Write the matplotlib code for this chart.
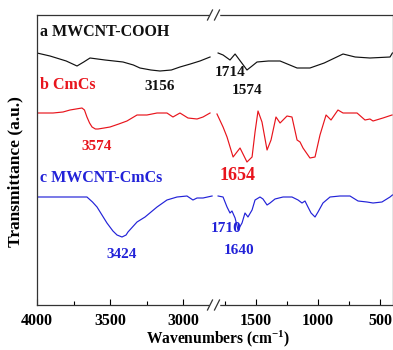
import matplotlib
matplotlib.use("Agg")
import matplotlib.pyplot as plt
from matplotlib.lines import Line2D

plt.rcParams['font.family'] = ['Liberation Serif', 'DejaVu Serif']
plt.rcParams['font.weight'] = 'bold'
plt.rcParams['mathtext.fontset'] = 'custom'
plt.rcParams['mathtext.rm'] = 'Liberation Serif:bold'
plt.rcParams['mathtext.bf'] = 'Liberation Serif:bold'
plt.rcParams['mathtext.default'] = 'bf'

# ---- data (wavenumber, transmittance a.u.) ----
a_left_wn = [4000, 3911, 3800, 3726, 3680, 3637, 3534, 3411, 3340, 3295, 3220, 3158,
             3080, 3021, 2950, 2884, 2815]
a_left_t = [267, 264, 259, 254, 258, 262, 260, 258, 255, 252, 250, 249,
            250, 253, 256, 259, 263]
a_right_wn = [1806, 1766, 1710, 1669, 1573, 1532, 1492, 1400, 1306, 1169, 1065, 950,
              798, 700, 581, 419, 400]
a_right_t = [267, 265, 260, 266, 250, 254, 258, 259, 259, 252, 252, 257,
             266, 263, 262, 263, 267]

b_left_wn = [4000, 3890, 3822, 3774, 3692, 3675, 3658, 3640, 3623, 3600, 3582, 3540,
             3500, 3440, 3384, 3315, 3247, 3178, 3110, 3069, 3021, 2966, 2904, 2863, 2815]
b_left_t = [207, 207, 208, 210, 212, 210, 203, 197, 193, 191, 191, 192,
            193, 196, 199, 205, 205, 207, 207, 203, 207, 202, 201, 203, 207]
b_right_wn = [1815, 1766, 1734, 1685, 1629, 1573, 1532, 1508, 1484, 1452, 1411, 1379,
              1339, 1306, 1250, 1210, 1169, 1145, 1121, 1065, 1024, 984, 935, 895,
              839, 798, 685, 621, 581, 556, 476, 403]
b_right_t = [206, 193, 183, 163, 172, 158, 163, 188, 209, 198, 170, 180,
             203, 197, 204, 203, 180, 178, 172, 162, 163, 185, 205, 200,
             210, 207, 207, 200, 201, 199, 202, 205]

c_left_wn = [4000, 3700, 3658, 3620, 3589, 3521, 3480, 3452, 3418, 3390, 3377, 3315,
             3260, 3178, 3110, 3041, 2973, 2932, 2904, 2863, 2801]
c_left_t = [123, 123, 123, 118, 113, 97, 89, 85, 83, 85, 88, 98,
            103, 113, 120, 123, 124, 120, 122, 122, 124]
c_right_wn = [1806, 1766, 1734, 1710, 1694, 1669, 1645, 1613, 1589, 1565, 1532, 1508,
              1468, 1444, 1411, 1387, 1347, 1282, 1210, 1161, 1129, 1105, 1081, 1056,
              1024, 1000, 960, 903, 823, 742, 677, 605, 556, 484, 419, 400]
c_right_t = [124, 123, 113, 107, 109, 102, 90, 97, 107, 103, 110, 120,
             123, 121, 115, 117, 121, 123, 123, 120, 117, 119, 113, 107,
             103, 108, 117, 123, 124, 124, 119, 118, 117, 118, 123, 125]

left_ticks = [4000, 3500, 3000]
left_minor = [3750, 3250]
right_ticks = [1500, 1000, 500]
right_minor = [1750, 1250, 750]

black = '#111111'
red = '#e8141c'
blue = '#2222d8'

W, H = 393, 350
fig = plt.figure(figsize=(W / 100, H / 100), dpi=100)

x0, xb, x1 = 37, 215, 392.5
ytop, ybot = 15, 305
axL = fig.add_axes([x0 / W, 1 - ybot / H, (xb - x0) / W, (ybot - ytop) / H])
axR = fig.add_axes([xb / W, 1 - ybot / H, (x1 - xb) / W, (ybot - ytop) / H])

lw = 0.85
axL.plot(a_left_wn, a_left_t, color=black, lw=lw)
axR.plot(a_right_wn, a_right_t, color=black, lw=lw)
axL.plot(b_left_wn, b_left_t, color=red, lw=lw)
axR.plot(b_right_wn, b_right_t, color=red, lw=lw)
axL.plot(c_left_wn, c_left_t, color=blue, lw=lw)
axR.plot(c_right_wn, c_right_t, color=blue, lw=lw)

axL.set_xlim(4000, 2781)
axR.set_xlim(1831, 399)
for ax in (axL, axR):
    ax.set_ylim(15, 305)
    ax.set_yticks([])
    ax.tick_params(axis='x', direction='in', length=4, width=0.8, labelsize=11.5,
                   pad=6, top=False)
    ax.tick_params(axis='x', which='minor', direction='in', length=3, width=0.8, top=False)
    for s in ax.spines.values():
        s.set_linewidth(0.9)
        s.set_color('#333333')
axL.set_xticks(left_ticks)
axL.set_xticks(left_minor, minor=True)
axR.set_xticks(right_ticks)
axR.set_xticks(right_minor, minor=True)
axL.spines['right'].set_visible(False)
axR.spines['left'].set_visible(False)

# break marks
for yy in (ytop, ybot):
    yf = 1 - yy / H
    fig.add_artist(Line2D([(xb - 4) / W, (xb + 3) / W], [yf, yf], color='white', lw=2.5))
    for xx in (xb - 5, xb + 2):
        fig.add_artist(Line2D([(xx - 2.5) / W, (xx + 2.5) / W],
                              [yf - 5 / H, yf + 5 / H], color='#333333', lw=0.9))

# labels
axL.text(3979, 288, 'a MWCNT-COOH', color=black, fontsize=11.5, ha='left', va='center')
axL.text(3979, 235, 'b CmCs', color=red, fontsize=11.5, ha='left', va='center')
axL.text(3979, 142, 'c MWCNT-CmCs', color=blue, fontsize=11.5, ha='left', va='center')

axL.text(3158, 234, '3156', color=black, fontsize=11, ha='center', va='center')
axL.text(3590, 174, '3574', color=red, fontsize=11, ha='center', va='center')
axL.text(3420, 65, '3424', color=blue, fontsize=11, ha='center', va='center')

axR.text(1710, 247, '1714', color=black, fontsize=11, ha='center', va='center')
axR.text(1575, 230, '1574', color=black, fontsize=11, ha='center', va='center')
axR.text(1650, 144, '1654', color=red, fontsize=13, ha='center', va='center')
axR.text(1742, 92, '1710', color=blue, fontsize=11, ha='center', va='center')
axR.text(1640, 70, '1640', color=blue, fontsize=11, ha='center', va='center')

fig.text(15 / W, 1 - 172 / H, 'Transmittance (a.u.)', rotation=90, fontsize=12.5,
         ha='center', va='center')
fig.text(218 / W, 1 - 339 / H, r'Wavenumbers (cm$^{-1}$)', fontsize=11.2,
         ha='center', va='center')

fig.savefig('out.png', dpi=100)
